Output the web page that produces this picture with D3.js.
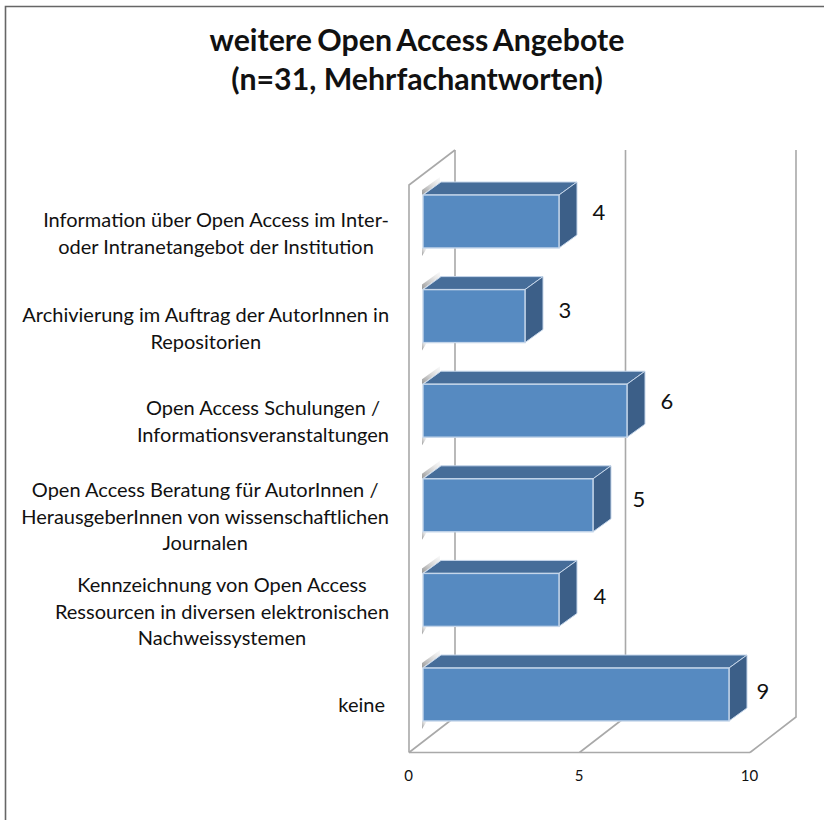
<!DOCTYPE html>
<html><head><meta charset="utf-8">
<script src="https://cdnjs.cloudflare.com/ajax/libs/d3/7.8.5/d3.min.js"></script>
<style>html,body{margin:0;padding:0;background:#fff}svg{display:block}text{font-family:Lato,"Open Sans",sans-serif;fill:#111}</style>
</head><body><svg id="c" width="824" height="820"></svg>
<script>
const titleLines = ["weitere Open Access Angebote", "(n=31, Mehrfachantworten)"];
const categories = [
  ["Information über Open Access im Inter-", "oder Intranetangebot der Institution"],
  ["Archivierung im Auftrag der AutorInnen in", "Repositorien"],
  ["Open Access Schulungen /", "Informationsveranstaltungen"],
  ["Open Access Beratung für AutorInnen /", "HerausgeberInnen von wissenschaftlichen", "Journalen"],
  ["Kennzeichnung von Open Access", "Ressourcen in diversen elektronischen", "Nachweissystemen"],
  ["keine"]
];
const values = [4, 3, 6, 5, 4, 9];
const tickValues = [0, 5, 10];

const svg = d3.select("#c");
const W = {l:409, r:750, top:185, floor:752.5, dx:46, dy:-35.5, backTop:150};
const x = d3.scaleLinear().domain([0,10]).range([W.l, W.r]);
const xb = d3.scaleLinear().domain([0,10]).range([423, 763]);
const y = d3.scaleBand().domain(d3.range(categories.length)).range([195, 721]).paddingInner(0.44).paddingOuter(0);
const barH = y.bandwidth(), depthX = 18, depthY = -13;

const defs = svg.append("defs");
const g = defs.append("linearGradient").attr("id","sh").attr("x1",0).attr("x2",1).attr("y1",1).attr("y2",0);
g.append("stop").attr("offset",0).attr("stop-color","#8a8a8a").attr("stop-opacity",0.9);
g.append("stop").attr("offset",1).attr("stop-color","#ccc").attr("stop-opacity",0.1);

// outer frame
svg.append("path").attr("d","M5.5,820V6.5H824").attr("fill","none").attr("stroke","#666").attr("stroke-width",1.6);

// title
svg.append("g").selectAll("text").data(titleLines).join("text")
  .attr("x",417).attr("y",(d,i)=>51+i*39).attr("text-anchor","middle")
  .attr("word-spacing",(d,i)=>i===0?-2:0)
  .attr("font-size",30.3).attr("font-weight",700).attr("fill","#000").text(d=>d);

// walls
const wall = svg.append("g").attr("fill","none").attr("stroke","#a9a9a9").attr("stroke-width",1.6);
wall.append("path").attr("d",`M${W.l},${W.floor}V${W.top}L${W.l+W.dx},${W.backTop}`);
wall.append("path").attr("d",`M${x(0)},${W.floor}H${x(10)}`);
tickValues.forEach(t=>{
  wall.append("path").attr("d",`M${x(t)},${W.floor}L${x(t)+W.dx},${W.floor+W.dy}V${W.backTop}`);
});

// bars
const bars = svg.append("g").selectAll("g").data(values).join("g");
bars.append("path").attr("d",(d,i)=>`M${xb(0)-1},${y(i)}l${depthX},${depthY}v-5l-${depthX},${-depthY}z`).attr("fill","url(#sh)");
bars.append("path").attr("d",(d,i)=>`M${xb(0)-1},${y(i)+barH}h5l-5,8z`).attr("fill","url(#sh)");
const stroke = "#c5d6ea";
bars.append("path").attr("fill","#466d99").attr("stroke",stroke).attr("stroke-width",1)
  .attr("d",(d,i)=>`M${xb(0)},${y(i)}l${depthX},${depthY}H${xb(d)+depthX}l${-depthX},${-depthY}z`);
bars.append("path").attr("fill","#3c5f88").attr("stroke",stroke).attr("stroke-width",1)
  .attr("d",(d,i)=>`M${xb(d)},${y(i)}l${depthX},${depthY}v${barH}l${-depthX},${-depthY}z`);
bars.append("rect").attr("fill","#568ac1").attr("stroke",stroke).attr("stroke-width",1.4)
  .attr("x",xb(0)).attr("y",(d,i)=>y(i)).attr("width",d=>xb(d)-xb(0)).attr("height",barH);

// data labels
const nudgeX = [40, 40, 40, 46, 41, 34];
const nudgeY = [-1.5, 2, -2, 2, 4, 4.5];
svg.append("g").selectAll("text").data(values).join("text")
  .attr("x",(d,i)=>xb(d)+nudgeX[i]).attr("y",(d,i)=>y(i)+barH/2+nudgeY[i])
  .attr("text-anchor","middle").attr("font-size",22).text(d=>d);

// category labels
const cat = svg.append("g").selectAll("text").data(categories).join("text")
  .attr("text-anchor","middle").attr("font-size",20);
const lineH = 26.5;
const xRight = [389, 389, 389, 389, 389, 385];
const firstY = [227, 322, 415, 497, 592, 711.5];
cat.each(function(lines,i){
  const t = d3.select(this);
  lines.forEach(s=>t.append("tspan").text(s));
});
cat.each(function(lines,i){
  const spans = d3.select(this).selectAll("tspan");
  let maxW = 0;
  spans.each(function(){ maxW = Math.max(maxW,this.getComputedTextLength()); });
  const cx = xRight[i]-maxW/2;
  spans.attr("x",cx).attr("y",(d,j)=>firstY[i]+j*lineH);
});

// axis
const axis = d3.axisBottom(x).tickValues(tickValues).tickSize(0).tickPadding(0);
const ax = svg.append("g").attr("transform",`translate(-1,770)`).call(axis);
ax.select(".domain").remove();
ax.selectAll("text").attr("font-size",15).attr("font-family","Lato,sans-serif").attr("fill","#333");
</script></body></html>
